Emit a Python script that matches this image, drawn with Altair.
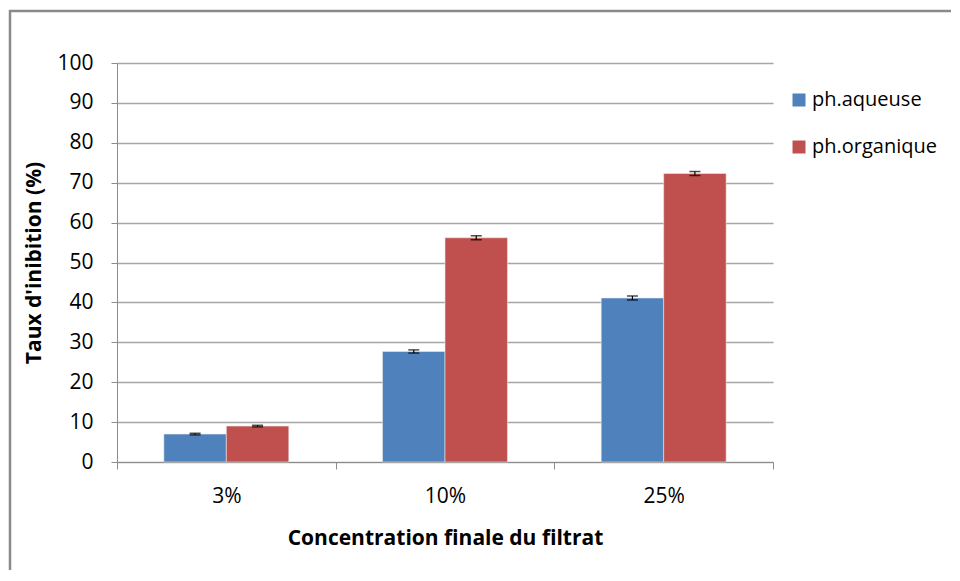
import altair as alt
import pandas as pd

categories = ["3%", "10%", "25%"]
series = ["ph.aqueuse", "ph.organique"]
aqueuse = [7.0, 27.7, 41.1]
organique = [9.0, 56.2, 72.3]
err_aqueuse = [0.2, 0.4, 0.5]
err_organique = [0.2, 0.5, 0.5]
y_ticks = [0, 10, 20, 30, 40, 50, 60, 70, 80, 90, 100]

rows = []
for i, c in enumerate(categories):
    rows.append({"cat": c, "serie": series[0], "val": aqueuse[i], "err": err_aqueuse[i]})
    rows.append({"cat": c, "serie": series[1], "val": organique[i], "err": err_organique[i]})
df = pd.DataFrame(rows)
df["lo"] = df["val"] - df["err"]
df["hi"] = df["val"] + df["err"]

FONT = "Open Sans"

xaxis = alt.Axis(title="Concentration finale du filtrat", labelAngle=0,
                 tickBand="extent", tickSize=7, labelPadding=16,
                 titlePadding=21, domainColor="#8c8c8c", tickColor="#8c8c8c")
xscale = alt.Scale(paddingInner=0, paddingOuter=0)
yaxis = alt.Axis(title="Taux d'inibition (%)", values=y_ticks,
                 labelOverlap=False,
                 tickSize=6, labelPadding=18, titlePadding=12,
                 domainColor="#8c8c8c", tickColor="#8c8c8c",
                 gridColor="#a6a6a6", gridWidth=1.3)
yscale = alt.Scale(domain=[0, 100])

def X():
    return alt.X("cat:N", sort=categories, scale=xscale, axis=xaxis)

def XO():
    return alt.XOffset("serie:N", sort=series,
                       scale=alt.Scale(paddingInner=0, paddingOuter=0.75))

def Y(field):
    return alt.Y(field + ":Q", scale=yscale, axis=yaxis)

color = alt.Color("serie:N", sort=series,
                  scale=alt.Scale(domain=series, range=["#4F81BD", "#C0504D"]),
                  legend=alt.Legend(title=None, orient="none", legendX=672, legendY=27,
                                    symbolType="square", symbolSize=169,
                                    symbolStrokeWidth=0, rowPadding=27,
                                    labelFontSize=20, labelFont=FONT, labelColor="#000000",
                                    labelOffset=3))

bars = alt.Chart(df).mark_bar(stroke="#e8e8e8", strokeWidth=0.6).encode(
    x=X(), xOffset=XO(), y=Y("val"), color=color)

rules = alt.Chart(df).mark_rule(color="black", strokeWidth=1.2).encode(
    x=X(), xOffset=XO(), y=Y("lo"), y2="hi:Q")
caps_lo = alt.Chart(df).mark_tick(color="black", orient="horizontal", size=11, thickness=1.5).encode(
    x=X(), xOffset=XO(), y=Y("lo"))
caps_hi = alt.Chart(df).mark_tick(color="black", orient="horizontal", size=11, thickness=1.5).encode(
    x=X(), xOffset=XO(), y=Y("hi"))

frame = alt.Chart(pd.DataFrame({"a": [0]})).mark_rect(
    fill=None, stroke="#8a8a8a", strokeWidth=2.5, clip=False).encode(
    x=alt.value(-107), x2=alt.value(2000), y=alt.value(-52), y2=alt.value(2000))

chart = alt.layer(bars, frame, rules, caps_lo, caps_hi).properties(
    width=656, height=399,
    autosize=alt.AutoSizeParams(type="none"),
    padding={"left": 109, "top": 55, "right": 178, "bottom": 108},
).configure_view(stroke=None).configure_axis(
    labelFont=FONT, titleFont=FONT, labelFontSize=21, titleFontSize=21,
    titleFontWeight="bold", labelColor="#000000", titleColor="#000000",
).configure_axisX(grid=False).configure_axisY(grid=True)

chart.save("out.html", embed_options={"renderer": "svg", "actions": False})
